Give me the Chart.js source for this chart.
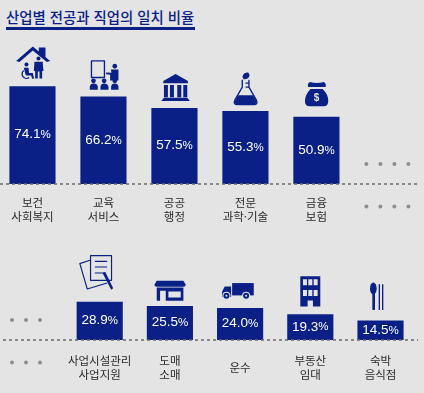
<!DOCTYPE html>
<html lang="ko">
<head>
<meta charset="utf-8">
<script src="https://cdn.jsdelivr.net/npm/chart.js@4"></script>
<style>
html,body{margin:0;padding:0;background:#e4e4e4;overflow:hidden;width:424px;height:393px}
.box{position:absolute}
#title{position:absolute;left:6px;top:4px;width:189px;height:23px;border-bottom:3px solid #0a2087;color:#0a2087;font:500 14.4px/26px "Noto Sans CJK KR";white-space:nowrap}
</style>
</head>
<body>
<div id="title">산업별 전공과 직업의 일치 비율</div>
<div class="box" style="left:-8px;top:0;width:440px;height:240px"><canvas id="top"></canvas></div>
<div class="box" style="left:-8px;top:230px;width:440px;height:163px"><canvas id="bottom"></canvas></div>
<script>
const topCategories = [["보건","사회복지"],["교육","서비스"],["공공","행정"],["전문","과학·기술"],["금융","보험"],""];
const topValues = [74.1,66.2,57.5,55.3,50.9,null];
const bottomCategories = ["",["사업시설관리","사업지원"],["도매","소매"],"운수",["부동산","임대"],["숙박","음식점"]];
const bottomValues = [null,28.9,25.5,24.0,19.3,14.5];

const NAVY = "#0a2087", BG = "#e4e4e4";
const topIcons = [
 {ox:94,oy:260,fill:["M45 184L95 140L113 155V143H133V172L147 184L137 187L95 152L55 187Z",
   "M100 186H125V192L127 214H123V236H115V215H110V236H102V214H98Z",
   "M68 204L82 204L84 220L95 220L99 236L93 237L90 227L74 227Z"],
   circles:[[112,176,6],[76,194,6]],
   stroke:["M68 212A13 13 0 1 0 84 233"],lw:4},
 {ox:308,oy:292,fill:["M330 210H353V243H328V226L316 224V219L332 220Z",
   "M267 271V262Q268 252 279 252Q290 252 291 262V271Z","M299 271V262Q300 252 310 252Q321 252 323 262V271Z","M331 271V262Q332 252 342 252Q352 252 353 262V271Z"],
   circles:[[342,200,7],[278,244,7],[310,244,7],[342,244,7]],
   stroke:["M272 184H311V234H272Z"],lw:4},
 {ox:521.5,oy:325,fill:["M525 222L562 243V250H488V243Z","M490 255H502V292H490Z","M508 255H520V292H508Z","M530 255H542V292H530Z","M548 255H560V292H548Z","M490 293H560L568 303H482Z"]},
 {ox:99.5,oy:334,fill:["M78 286H122L132 303Q135 313 125 313H75Q65 313 68 303Z","M92 226Q96 216 108 218Q114 224 110 232Q104 240 94 238Q88 232 92 226Z"],
   stroke:["M90 240V262L68 300Q62 314 75 314H125Q138 314 132 300L110 262V240","M100 250H110M100 262H110"],lw:4},
 {ox:313.5,oy:352,fill:["M294 247Q304 250 314 250Q326 250 336 247Q344 252 341 262H289Q285 252 294 247Z","M296 268H332Q350 285 349 305Q349 320 335 320H293Q279 320 279 305Q279 285 296 268Z"],
   text:["$",314,296,"bold 30px 'Liberation Sans'"]}
];
const bottomIcons = [
 {ox:299.5,oy:187,stroke:["M272 48H335V122H272Z","M270 62L240 72L262 148L322 130","M285 65H322M285 82H322M285 100H312"],lw:3.5,
   fill:["M308 100L316 96L340 146L334 150Z"]},
 {ox:509.5,oy:199,fill:["M470 122H550L557 134Q557 140 550 140H470Q463 140 463 134Z","M470 142H550V182H470ZM480 152V182H497V152ZM505 154V172H542V154Z"],evenodd:true},
 {ox:84,oy:206,fill:["M60 130H125V167H60Z","M57 140H38L30 155V172H57Z"],
   rings:[[43,168,9],[102,168,9]]},
 {ox:295,oy:224,fill:["M265 109H325V200H303V182H287V200H265ZM273 118V136H285V118ZM289 118V136H301V118ZM305 118V136H317V118ZM273 150V168H285V150ZM289 150V168H301V150ZM305 150V168H317V150Z"],evenodd:true},
 {ox:505.5,oy:243,fill:["M481 160H489V210H481Z"],ellipse:[484,146,10,18],
   stroke:["M502 133V210M512 133V210"],lw:4}
];

function drawIcon(ctx, ic, x, y){
  ctx.save();
  ctx.translate(x, y);
  ctx.scale(1/3, 1/3);
  ctx.translate(-ic.ox, -ic.oy);
  ctx.fillStyle = NAVY; ctx.strokeStyle = NAVY;
  ctx.lineJoin = "round";
  (ic.fill||[]).forEach(d => ctx.fill(new Path2D(d), ic.evenodd ? "evenodd" : "nonzero"));
  (ic.circles||[]).forEach(c => { ctx.beginPath(); ctx.arc(c[0],c[1],c[2],0,Math.PI*2); ctx.fill(); });
  (ic.rings||[]).forEach(c => {
    ctx.fillStyle = BG; ctx.beginPath(); ctx.arc(c[0],c[1],c[2]+3,0,Math.PI*2); ctx.fill();
    ctx.fillStyle = NAVY; ctx.beginPath(); ctx.arc(c[0],c[1],c[2],0,Math.PI*2); ctx.fill();
    ctx.fillStyle = BG; ctx.beginPath(); ctx.arc(c[0],c[1],3,0,Math.PI*2); ctx.fill();
    ctx.fillStyle = NAVY;
  });
  if (ic.ellipse){ const e = ic.ellipse; ctx.beginPath(); ctx.ellipse(e[0],e[1],e[2],e[3],0,0,Math.PI*2); ctx.fill(); }
  if (ic.stroke){ ctx.lineWidth = ic.lw; ic.stroke.forEach(d => ctx.stroke(new Path2D(d))); }
  if (ic.text){ ctx.fillStyle = BG; ctx.font = ic.text[3]; ctx.textAlign = "center"; ctx.textBaseline = "middle"; ctx.fillText(ic.text[0], ic.text[1], ic.text[2]); }
  ctx.restore();
}

const decorate = {
  id: "decorate",
  afterDatasetsDraw(chart, args, opts){
    const ctx = chart.ctx, meta = chart.getDatasetMeta(0), data = chart.data.datasets[0].data;
    const base = chart.chartArea.bottom;
    ctx.save();
    ctx.strokeStyle = "#6a6a6a"; ctx.lineWidth = 1.3; ctx.setLineDash([3,3]);
    ctx.beginPath(); ctx.moveTo(opts.lineFrom, base); ctx.lineTo(opts.lineTo, base); ctx.stroke();
    ctx.setLineDash([]);
    const cx = chart.scales.x.getPixelForValue(opts.dotIndex) + opts.dotShift;
    ctx.fillStyle = "#8e8e8e";
    opts.dotOffsets.forEach(dx => [base - 20, base + 22.5].forEach(yy => {
      ctx.beginPath(); ctx.arc(cx + dx, yy, 2, 0, Math.PI*2); ctx.fill();
    }));
    let k = 0;
    data.forEach((v, i) => {
      if (v === null) return;
      const bar = meta.data[i];
      const num = v.toFixed(1), yMid = (bar.y + base) / 2 - 0.5;
      ctx.fillStyle = "#fff"; ctx.textBaseline = "middle"; ctx.textAlign = "left";
      ctx.font = "13.5px 'Liberation Sans'"; const w1 = ctx.measureText(num).width;
      ctx.font = "11.5px 'Liberation Sans'"; const w2 = ctx.measureText("%").width;
      const x0 = bar.x - (w1 + w2) / 2;
      ctx.font = "13.5px 'Liberation Sans'"; ctx.fillText(num, x0, yMid);
      ctx.font = "11.5px 'Liberation Sans'"; ctx.fillText("%", x0 + w1, yMid + 0.5);
      drawIcon(ctx, opts.icons[k++], bar.x, bar.y);
    });
    ctx.restore();
  }
};

function makeChart(id, labels, values, cfg){
  return new Chart(document.getElementById(id), {
    type: "bar",
    data: { labels, datasets: [{ data: values, backgroundColor: NAVY, barThickness: 45.5 }] },
    plugins: [decorate],
    options: {
      animation: false, responsive: true, maintainAspectRatio: false,
      layout: { padding: cfg.padding },
      plugins: { legend: {display:false}, tooltip: {enabled:false}, decorate: cfg.deco },
      scales: {
        y: { display: false, min: 0, max: cfg.max },
        x: {
          afterFit: s => { s.height = cfg.axisHeight; },
          grid: { display:false, drawTicks:false }, border: { display:false },
          ticks: { autoSkip:false, maxRotation:0, padding: cfg.tickPad, crossAlign:"center", color:"#2a2a2a",
                   font:{ family:"'Noto Sans CJK KR'", size:11.5, lineHeight:1.22 } }
        }
      }
    }
  });
}

makeChart("top", topCategories, topValues, {
  max: 110, axisHeight: 56, tickPad: 19,
  padding: { left: 3.7, right: 9.1, top: 39.2, bottom: 0 },
  deco: { icons: topIcons, lineFrom: 8, lineTo: 428, dotIndex: 5, dotShift: 0, dotOffsets: [-21,-7,7,21] }
});
makeChart("bottom", bottomCategories, bottomValues, {
  max: 80, axisHeight: 53, tickPad: 20.5,
  padding: { left: 2.4, right: 16.4, top: 4.7, bottom: 0 },
  deco: { icons: bottomIcons, lineFrom: 11, lineTo: 426, dotIndex: 0, dotShift: -3.5, dotOffsets: [-14,0,14] }
});
</script>
</body>
</html>
